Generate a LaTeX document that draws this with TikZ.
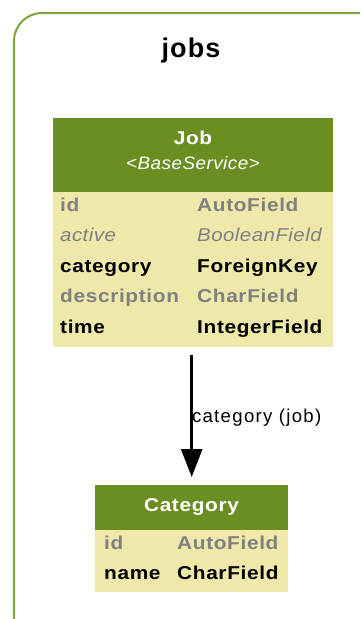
\documentclass[tikz,border=0pt]{standalone}
\usepackage{fontspec}
\setmainfont{Liberation Sans}
\newfontfamily\fldfont[FakeStretch=1.12, LetterSpace=3.5]{Liberation Sans}
\newfontfamily\itfont[FakeStretch=1.1, LetterSpace=2.5]{Liberation Sans}
\newfontfamily\subfont[FakeStretch=1.05, LetterSpace=2.5]{Liberation Sans}
\newfontfamily\lblfont[LetterSpace=7]{Liberation Sans}
\newfontfamily\ttlfont[LetterSpace=4]{Liberation Sans}
\usetikzlibrary{arrows.meta}
\definecolor{clusterc}{RGB}{124,166,60}
\definecolor{headc}{RGB}{107,142,35}
\definecolor{bodyc}{RGB}{238,232,170}
\definecolor{greyc}{RGB}{128,128,128}
\tikzset{
  box/.style={draw=none, fill=bodyc, inner sep=0pt, anchor=north west},
  head/.style={draw=none, fill=headc, inner sep=0pt, anchor=north west},
  fld/.style={anchor=base west, inner sep=0pt, font=\fldfont\fontsize{18.6}{20}\selectfont\bfseries},
  gfld/.style={fld, text=greyc},
  ifld/.style={anchor=base west, inner sep=0pt, font=\itfont\fontsize{18.6}{20}\selectfont\itshape, text=greyc},
  htitle/.style={anchor=base, inner sep=0pt, text=white, font=\fldfont\fontsize{18.6}{20}\selectfont\bfseries},
  hsub/.style={anchor=base, inner sep=0pt, text=white, font=\subfont\fontsize{18}{20}\selectfont\itshape},
  rel/.style={draw=black, line width=2.6pt, -{Triangle[length=28pt,width=21pt]}},
}
\begin{document}
\begin{tikzpicture}[x=1pt,y=-1pt]
\useasboundingbox (0,0) rectangle (360,619);
\begin{scope}
\clip (0,0) rectangle (360,619);
\draw[clusterc, line width=2pt, rounded corners=28pt] (14,13) rectangle (390,650);
\end{scope}
\node[anchor=base, inner sep=0pt, font=\ttlfont\fontsize{27}{30}\selectfont\bfseries] (title) at (191,57) {jobs};
% Job table
\node[box, minimum width=280pt, minimum height=229pt] (job) at (53,118) {};
\node[head, minimum width=280pt, minimum height=74pt] (jobh) at (53,118) {};
\node[htitle] (jobt) at (193,144.5) {Job};
\node[hsub] (jobs) at (193,169) {<BaseService>};
\node[gfld] (j1a) at (60,211) {id};
\node[gfld] (j1b) at (197,211) {AutoField};
\node[ifld] (j2a) at (60,241.5) {active};
\node[ifld] (j2b) at (197,241.5) {BooleanField};
\node[fld] (j3a) at (60,272) {category};
\node[fld] (j3b) at (197,272) {ForeignKey};
\node[gfld] (j4a) at (60,302.5) {description};
\node[gfld] (j4b) at (197,302.5) {CharField};
\node[fld] (j5a) at (60,333) {time};
\node[fld] (j5b) at (197,333) {IntegerField};
% Category table
\node[box, minimum width=193pt, minimum height=107pt] (cat) at (95,485) {};
\node[head, minimum width=193pt, minimum height=45pt] (cath) at (95,485) {};
\node[htitle] (catt) at (191.5,511.5) {Category};
\node[gfld] (c1a) at (104,549.5) {id};
\node[gfld] (c1b) at (177,549.5) {AutoField};
\node[fld] (c2a) at (104,579) {name};
\node[fld] (c2b) at (177,579) {CharField};
% relation
\draw[rel, shorten <=8pt, shorten >=8pt] (job.south -| cat.north) -- (cat.north)
  node[pos=0.5, anchor=base west, inner sep=0pt, font=\lblfont\fontsize{18.6}{20}\selectfont, xshift=-1pt, yshift=-6pt] (lbl) {category (job)};
\end{tikzpicture}
\end{document}
